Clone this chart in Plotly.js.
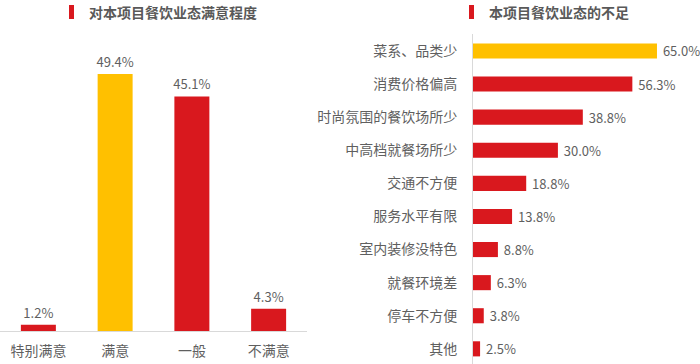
<!DOCTYPE html>
<html>
<head>
<meta charset="utf-8">
<script src="https://cdn.plot.ly/plotly-3.0.1.min.js"></script>
<style>html,body{margin:0;padding:0;background:#fff;}#chart{width:700px;height:364px;}</style>
</head>
<body>
<div id="chart"></div>
<script>
// Left chart: satisfaction
const satTitle = "对本项目餐饮业态满意程度";
const satCategories = ["特别满意", "满意", "一般", "不满意"];
const satValues = [1.2, 49.4, 45.1, 4.3];

// Right chart: shortcomings
const issueTitle = "本项目餐饮业态的不足";
const issueCategories = ["菜系、品类少", "消费价格偏高", "时尚氛围的餐饮场所少", "中高档就餐场所少", "交通不方便", "服务水平有限", "室内装修没特色", "就餐环境差", "停车不方便", "其他"];
const issueValues = [65.0, 56.3, 38.8, 30.0, 18.8, 13.8, 8.8, 6.3, 3.8, 2.5];

const RED = "#D9181E", YELLOW = "#FFC000", TXT = "#5F5F5F";
const FONT = "Noto Sans CJK SC, Noto Sans, sans-serif";
function colorsFor(vals) {
  const m = Math.max(...vals);
  return vals.map(v => v === m ? YELLOW : RED);
}

const traces = [
  {
    type: "bar", x: satCategories, y: satValues, xaxis: "x", yaxis: "y",
    marker: {color: colorsFor(satValues)},
    text: satValues.map(v => v.toFixed(1) + "%"), textposition: "outside", constraintext: "none",
    textfont: {size: 13, color: TXT, family: FONT}, cliponaxis: false,
    hoverinfo: "none"
  },
  {
    type: "bar", orientation: "h", y: issueCategories, x: issueValues, xaxis: "x2", yaxis: "y2",
    marker: {color: colorsFor(issueValues)},
    text: issueValues.map(v => "\u00a0" + v.toFixed(1) + "%"), textposition: "outside", constraintext: "none",
    textfont: {size: 13, color: TXT, family: FONT}, cliponaxis: false,
    hoverinfo: "none"
  }
];

const layout = {
  width: 700, height: 364,
  margin: {l: 0, r: 0, t: 0, b: 0},
  paper_bgcolor: "#fff", plot_bgcolor: "#fff",
  showlegend: false,
  font: {family: FONT, color: TXT, size: 14},
  bargap: 0.544,
  xaxis: {
    domain: [0, 307/700], type: "category", showgrid: false, zeroline: false,
    showline: true, linecolor: "#D9D9D9", linewidth: 1,
    ticks: "", tickfont: {size: 14, color: TXT, family: FONT}, ticklabelstandoff: 7
  },
  yaxis: {
    domain: [33/364, 324.2/364], range: [0, 56], visible: false, fixedrange: true
  },
  xaxis2: {
    domain: [473/700, 1], range: [0, 80.2], visible: false, anchor: "y2"
  },
  yaxis2: {
    domain: [0, 329.6/364], type: "category", range: [9.458, -0.5], anchor: "x2",
    showgrid: false, zeroline: false, showline: true, linecolor: "#D9D9D9", linewidth: 1,
    ticks: "", tickfont: {size: 14, color: TXT, family: FONT}, ticklabelstandoff: 12
  },
  shapes: [
    {type: "rect", xref: "paper", yref: "paper", x0: 69/700, x1: 74/700, y0: 1 - 19/364, y1: 1 - 5/364, fillcolor: RED, line: {width: 0}},
    {type: "rect", xref: "paper", yref: "paper", x0: 469/700, x1: 474/700, y0: 1 - 19/364, y1: 1 - 5/364, fillcolor: RED, line: {width: 0}}
  ],
  annotations: [
    {text: "<b>" + satTitle + "</b>", xref: "paper", yref: "paper", x: 87/700, y: 1 - 12/364, xanchor: "left", yanchor: "middle", showarrow: false, font: {size: 14, color: "#595959", family: FONT}},
    {text: "<b>" + issueTitle + "</b>", xref: "paper", yref: "paper", x: 487/700, y: 1 - 12/364, xanchor: "left", yanchor: "middle", showarrow: false, font: {size: 14, color: "#595959", family: FONT}}
  ]
};

Plotly.newPlot("chart", traces, layout, {displayModeBar: false, staticPlot: true});
</script>
</body>
</html>
